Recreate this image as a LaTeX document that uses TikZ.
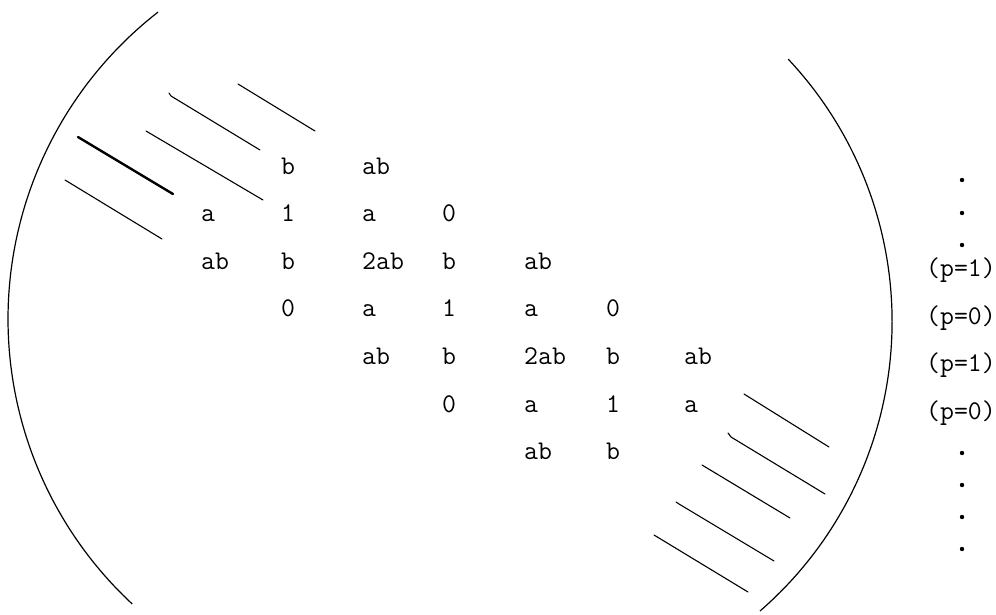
\documentclass[tikz,border=0pt]{standalone}
\begin{document}
\begin{tikzpicture}[x=1pt,y=-1pt,
  cell/.style={anchor=mid west,inner sep=0pt,font=\fontsize{27}{27}\selectfont\ttfamily},
  lbl/.style={anchor=mid,inner sep=0pt,font=\fontsize{27}{27}\selectfont\ttfamily},
  hatch/.style={line width=1.1pt,line cap=round},
  brace/.style={line width=1.2pt},
  dotmark/.style={circle,fill,inner sep=0pt,minimum size=4.4pt}]
\useasboundingbox (0,0) rectangle (996,614);
% big brackets
\draw[brace] plot[domain=132.9:232.1,samples=80,smooth] ({397+389*cos(\x)},{319+389*sin(\x)});
\draw[brace] plot[domain=-43.2:49.05,samples=80,smooth] ({508.8+383.3*cos(\x)},{321.5+383.3*sin(\x)});
% top-left hatching
\draw[hatch] (238,84) -- (315,131);
\draw[hatch] (169,93) -- (171,96) -- (260,150);
\draw[hatch] (146,131) -- (263,200);
\draw[hatch,line width=2.4pt] (78,137) -- (173,194);
\draw[hatch] (65,180) -- (162,239);
% bottom-right hatching
\draw[hatch] (744,394) -- (829,447);
\draw[hatch] (728,433) -- (731,437) -- (825,494);
\draw[hatch] (702,465) -- (790,518);
\draw[hatch] (676,502) -- (679,504) -- (774,561);
\draw[hatch] (654,535) -- (748,592);
% entries
\def\ra{172}\def\rb{219.6}\def\rc{267.2}\def\rd{314.8}\def\re{362.4}\def\rf{410}\def\rg{457.6}
\node[cell] (e12) at (281,\ra) {b};
\node[cell] (e13) at (362,\ra) {ab};
\node[cell] (e21) at (201,\rb) {a};
\node[cell] (e22) at (281,\rb) {1};
\node[cell] (e23) at (362,\rb) {a};
\node[cell] (e24) at (442,\rb) {0};
\node[cell] (e31) at (201,\rc) {ab};
\node[cell] (e32) at (281,\rc) {b};
\node[cell] (e33) at (362,\rc) {2ab};
\node[cell] (e34) at (442,\rc) {b};
\node[cell] (e35) at (524,\rc) {ab};
\node[cell] (e42) at (281,\rd) {0};
\node[cell] (e43) at (362,\rd) {a};
\node[cell] (e44) at (442,\rd) {1};
\node[cell] (e45) at (524,\rd) {a};
\node[cell] (e46) at (606,\rd) {0};
\node[cell] (e53) at (362,\re) {ab};
\node[cell] (e54) at (442,\re) {b};
\node[cell] (e55) at (524,\re) {2ab};
\node[cell] (e56) at (606,\re) {b};
\node[cell] (e57) at (684,\re) {ab};
\node[cell] (e64) at (442,\rf) {0};
\node[cell] (e65) at (524,\rf) {a};
\node[cell] (e66) at (606,\rf) {1};
\node[cell] (e67) at (684,\rf) {a};
\node[cell] (e75) at (524,\rg) {ab};
\node[cell] (e76) at (606,\rg) {b};
% side labels
\node[lbl] (p1) at (961,274) {(p=1)};
\node[lbl] (p2) at (961,322) {(p=0)};
\node[lbl] (p3) at (961,369.5) {(p=1)};
\node[lbl] (p4) at (961,417) {(p=0)};
\node[dotmark] (d1) at (962,180) {};
\node[dotmark] (d2) at (962,213) {};
\node[dotmark] (d3) at (962,245) {};
\node[dotmark] (d4) at (962,453) {};
\node[dotmark] (d5) at (962,485) {};
\node[dotmark] (d6) at (962,517) {};
\node[dotmark] (d7) at (962,549) {};
\end{tikzpicture}
\end{document}
